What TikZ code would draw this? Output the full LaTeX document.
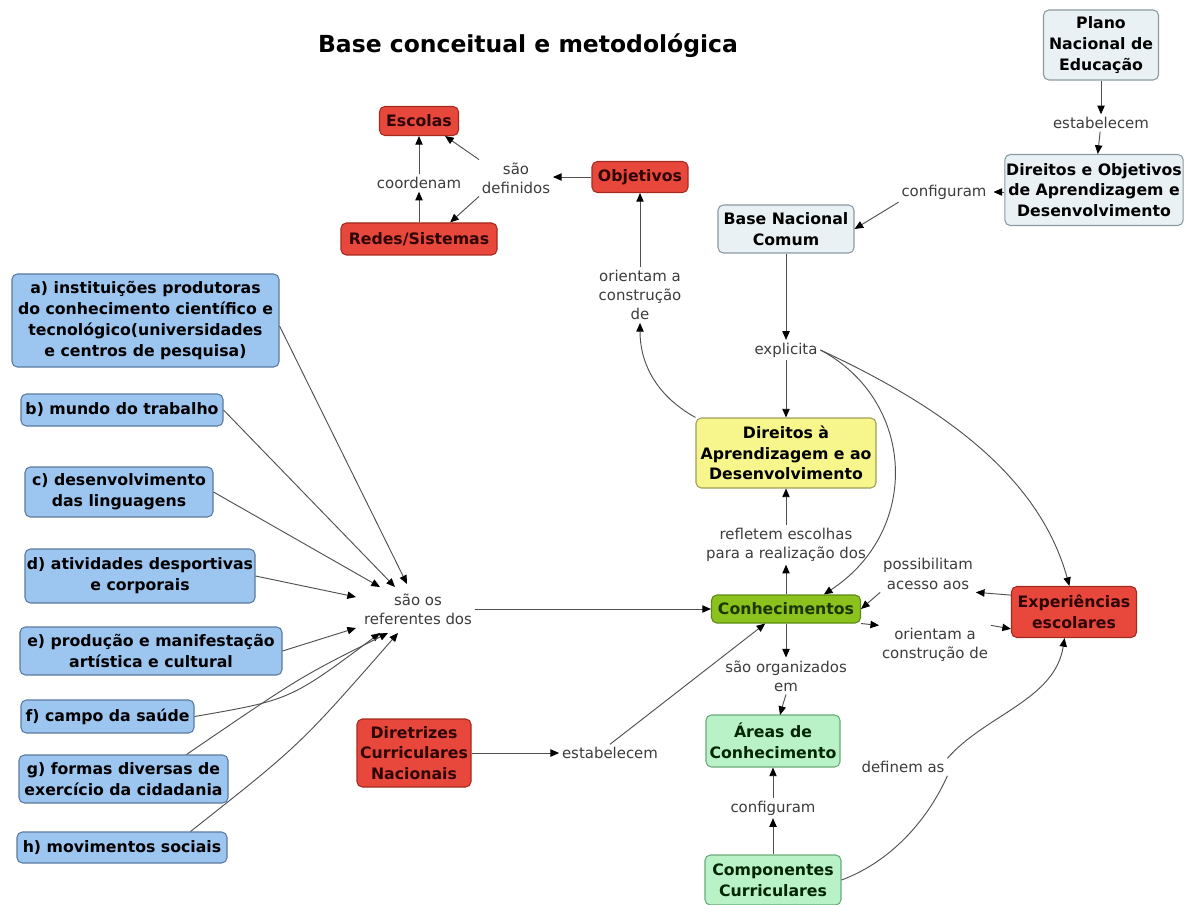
\documentclass[tikz,border=0pt]{standalone}
\usepackage{fontspec}
\setmainfont{DejaVu Sans}
\usetikzlibrary{arrows.meta}
\definecolor{lightfill}{HTML}{EAF1F4}
\definecolor{lightdraw}{HTML}{8A9AA0}
\definecolor{redfill}{HTML}{E8483C}
\definecolor{reddraw}{HTML}{A52A1E}
\definecolor{redtext}{HTML}{2E0404}
\definecolor{yelfill}{HTML}{F6F68C}
\definecolor{yeldraw}{HTML}{9E9E5A}
\definecolor{grnfill}{HTML}{8CC21E}
\definecolor{grndraw}{HTML}{5C8A14}
\definecolor{grntext}{HTML}{1C3600}
\definecolor{lgfill}{HTML}{BAF2C8}
\definecolor{lgdraw}{HTML}{6AAA7A}
\definecolor{bluefill}{HTML}{9CC5F0}
\definecolor{bluedraw}{HTML}{5A7AA0}
\definecolor{labelgray}{HTML}{3C3C3C}
\definecolor{linegray}{HTML}{505050}
\begin{document}
\begin{tikzpicture}[x=0.75pt,y=-0.75pt,
  box/.style={draw, rounded corners=4pt, line width=0.8pt, align=center, inner sep=1pt,
    font=\fontsize{11.8}{15.6}\selectfont\bfseries, text=black},
  wh/.style 2 args={minimum width=#1*0.75pt, minimum height=#2*0.75pt},
  lightbox/.style={box, fill=lightfill, draw=lightdraw},
  redbox/.style={box, fill=redfill, draw=reddraw, text=redtext},
  yelbox/.style={box, fill=yelfill, draw=yeldraw},
  grnbox/.style={box, fill=grnfill, draw=grndraw, text=grntext},
  lgbox/.style={box, fill=lgfill, draw=lgdraw, text=black!85!green},
  bluebox/.style={box, fill=bluefill, draw=bluedraw},
  lbl/.style={align=center, inner sep=2pt, text=labelgray,
    font=\fontsize{11.2}{14.4}\selectfont},
  conn/.style={draw=linegray, line width=0.7pt},
  arr/.style={conn, -{Triangle[length=6.5pt,width=5.5pt,color=black]}}
]
\useasboundingbox (0,0) rectangle (1194,905);

% title
\node[font=\fontsize{17.6}{20}\selectfont\bfseries] (title) at (528,46) {Base conceitual e metodológica};

% right / top column
\node[lightbox, wh={115}{70}] (pne) at (1101,45) {Plano\\Nacional de\\Educação};
\node[lbl] (l1) at (1101,123) {estabelecem};
\node[lightbox, wh={171}{71}] (doad) at (1094,190) {Direitos e Objetivos\\de Aprendizagem e\\Desenvolvimento};
\node[lbl] (l2) at (944,192) {configuram};
\node[lightbox, wh={136}{48}] (bnc) at (786,229) {Base Nacional\\Comum};
\node[lbl] (l3) at (786,350) {explicita};
\node[yelbox, wh={180}{70}] (dad) at (786,453) {Direitos à\\Aprendizagem e ao\\Desenvolvimento};
\node[lbl] (l4) at (786,545) {refletem escolhas\\para a realização dos};
\node[grnbox, wh={149}{28}] (con) at (786,609) {Conhecimentos};
\node[lbl] (l5) at (786,676) {são organizados\\em};
\node[lgbox, wh={134}{52}] (area) at (773,741) {Áreas de\\Conhecimento};
\node[lbl] (l6) at (773,808) {configuram};
\node[lgbox, wh={136}{50}] (comp) at (773,880) {Componentes\\Curriculares};
\node[redbox, wh={125}{51}] (exp) at (1074,612) {Experiências\\escolares};
\node[lbl] (l7) at (928,574) {possibilitam\\acesso aos};
\node[lbl] (l8) at (935,645) {orientam a\\construção de};
\node[lbl] (l9) at (903,767) {definem as};
\node[redbox, wh={114}{68}] (dcn) at (414,753) {Diretrizes\\Curriculares\\Nacionais};
\node[lbl] (l10) at (610,753) {estabelecem};
\node[lbl] (l11) at (418,609) {são os\\referentes dos};

% top-left cluster
\node[redbox, wh={96}{31}] (obj) at (640,177) {Objetivos};
\node[lbl] (l12) at (640,295) {orientam a\\construção\\de};
\node[lbl] (l13) at (516,178) {são\\definidos};
\node[redbox, wh={79}{29}] (esc) at (419,121) {Escolas};
\node[redbox, wh={156}{32}] (red) at (419,239) {Redes/Sistemas};
\node[lbl] (l14) at (419,183) {coordenam};

% left column
\node[bluebox, wh={267}{93}] (ba) at (145.5,320.5) {a) instituições produtoras\\do conhecimento científico e\\tecnológico(universidades\\e centros de pesquisa)};
\node[bluebox, wh={202}{32}] (bb) at (122,410) {b) mundo do trabalho};
\node[bluebox, wh={188}{50}] (bc) at (119,492) {c) desenvolvimento\\das linguagens};
\node[bluebox, wh={230}{54}] (bd) at (140,576) {d) atividades desportivas\\e corporais};
\node[bluebox, wh={262}{48}] (be) at (151,651) {e) produção e manifestação\\artística e cultural};
\node[bluebox, wh={173}{33}] (bf) at (107.5,716.5) {f) campo da saúde};
\node[bluebox, wh={209}{48}] (bg) at (123.5,779) {g) formas diversas de\\exercício da cidadania};
\node[bluebox, wh={210}{31}] (bh) at (122,847.5) {h) movimentos sociais};

% arrow tips around "são os referentes dos"
\coordinate (ta) at (407,584);
\coordinate (tb) at (395,587);
\coordinate (tc) at (380,587);
\coordinate (td) at (356,597);
\coordinate (te) at (356,628);
\coordinate (tf) at (380,633);
\coordinate (tg) at (388,633);
\coordinate (th) at (398,633);

% connectors: right column
\draw[arr] (pne) -- (l1);
\draw[arr] (l1) -- (doad);
\draw[arr] (doad.west |- l2) -- ([xshift=3pt]l2.east);
\draw[arr] (l2.south west) -- (bnc.east);
\draw[arr] (bnc) -- (l3);
\draw[arr] (l3) -- (dad);
\draw[arr] (l3.east) .. controls (915,400) and (922,530) .. (con.21);
\draw[arr] (l3.east) .. controls (950,410) and (1040,480) .. (exp.100);
\draw[arr] (dad.north west) .. controls (655,395) and (640,362) .. (l12.south);
\draw[arr] (l12) -- (obj);
\draw[arr] (obj.west) -- (l13.east |- obj.west);
\draw[arr] (l13.north west) -- (esc.-30);
\draw[arr] (l13.south west) -- (red.28);
\draw[arr] (red) -- (l14);
\draw[arr] (l14) -- (esc);
\draw[arr] (con) -- (l4);
\draw[arr] (l4) -- (dad);
\draw[arr] (con) -- (l5);
\draw[arr] (l5.south) .. controls (784,700) .. (780,715);
\draw[arr] (comp) -- (l6);
\draw[arr] (l6) -- (area);
\draw[arr] (exp.165) -- (l7.south east);
\draw[arr] (l7.south west) -- (con.east);
\draw[arr] (con.south east) -- (l8.north west);
\draw[arr] (l8.north east) -- (exp.195);
\draw[conn] (comp.east) .. controls (895,860) and (930,815) .. (l9.south east);
\draw[arr] (l9.north east) .. controls (985,715) and (1055,700) .. (exp.250);
\draw[arr] (dcn) -- (l10);
\draw[arr] (l10.north) -- (con.215);
\draw[arr] (l11.east |- con) -- (con.west);

% connectors: left column
\draw[arr] (ba.east |- 0,326) -- (ta);
\draw[arr] (bb.east) -- (tb);
\draw[arr] (bc.east) -- (tc);
\draw[arr] (bd.east) -- (td);
\draw[arr] (be.east) -- (te);
\draw[arr] (bf.east) .. controls (290,700) .. (tf);
\draw[arr] (bg.north east) ++(-42,0) .. controls (300,677) .. (tg);
\draw[arr] (bh.north east) ++(-37,0) .. controls (300,745) .. (th);
\end{tikzpicture}
\end{document}
